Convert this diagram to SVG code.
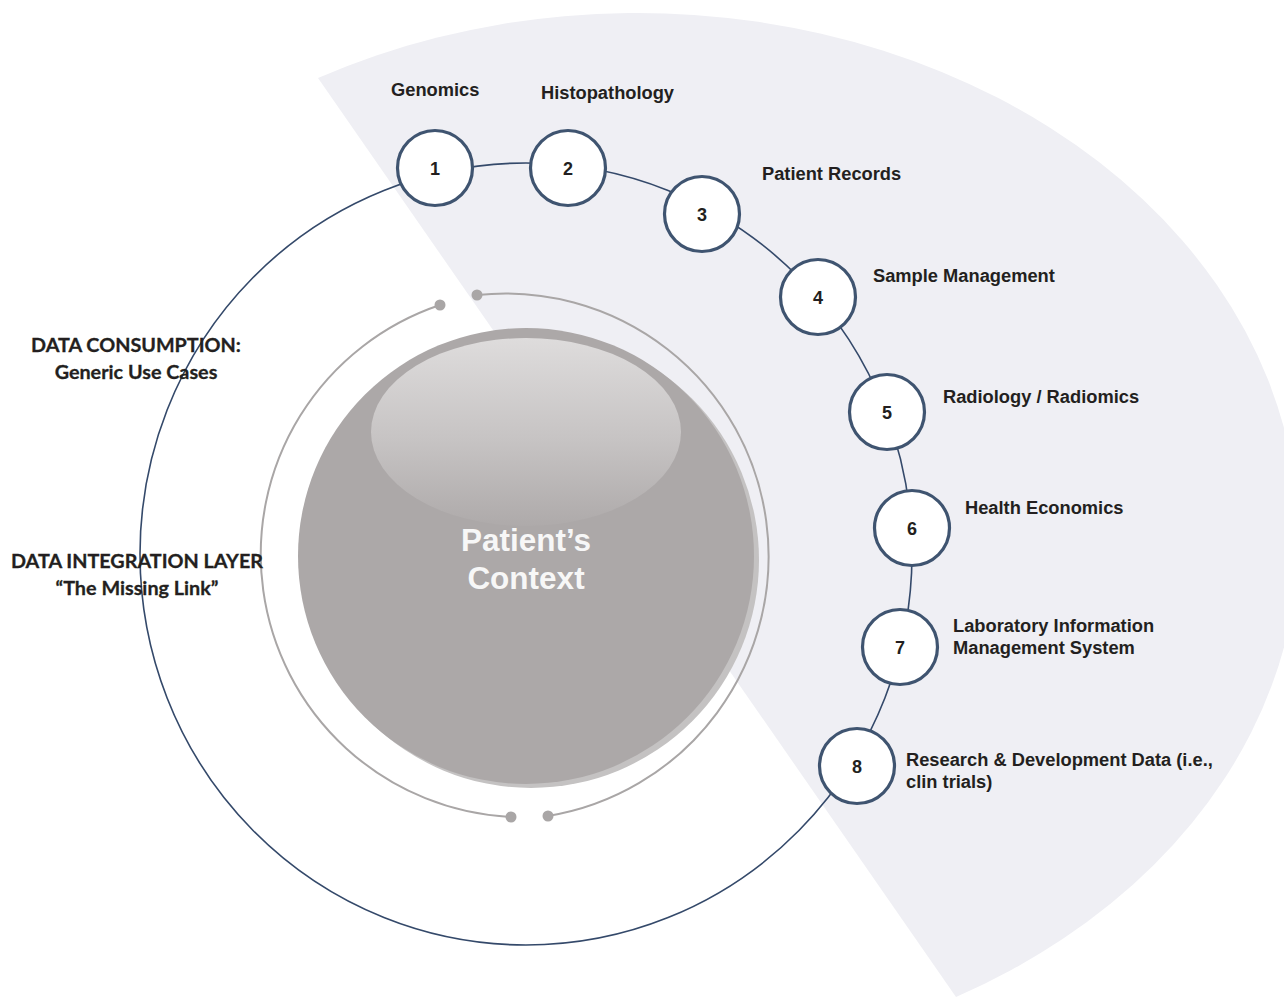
<svg xmlns="http://www.w3.org/2000/svg" width="1284" height="998" viewBox="0 0 1284 998">
  <defs>
    <linearGradient id="gloss" x1="0" y1="0" x2="0" y2="1">
      <stop offset="0" stop-color="#dedcdc"/>
      <stop offset="0.55" stop-color="#c6c3c3"/>
      <stop offset="1" stop-color="#aeaaaa"/>
    </linearGradient>
    <style>
      .node circle { fill: #ffffff; stroke: #3f5470; stroke-width: 3.2; }
      .num { font-family: "Liberation Sans", Arial, sans-serif; font-weight: bold; font-size: 18px; fill: #231f20; text-anchor: middle; }
      .lbl { font-family: "Liberation Sans", Arial, sans-serif; font-weight: bold; font-size: 18.3px; fill: #231f20; }
      .side { font-family: Lato, "Open Sans", sans-serif; font-weight: bold; font-size: 19.8px; fill: #231f20; text-anchor: middle; stroke: #231f20; stroke-width: 0.3; }
      .ring { fill: none; stroke: #a9a6a6; stroke-width: 2; }
      .dot { fill: #a9a6a6; }
    </style>
  </defs>

  <rect width="1284" height="998" fill="#ffffff"/>

  <!-- pale sector behind the data sources -->
  <path id="sector" d="M318,78 A661,524 0 1 1 956,997 Z" fill="#efeff4"/>

  <!-- outer ring linking the data sources -->
  <g id="connectors">
    <ellipse cx="526" cy="554" rx="386" ry="391" fill="none" stroke="#34496a" stroke-width="1.6"/>
  </g>

  <!-- integration layer ring with gaps -->
  <g id="integration-ring">
    <path class="ring" d="M440,305 A263,263 0 0 0 511,817"/>
    <path class="ring" d="M477,295 A263,263 0 0 1 548,816"/>
    <circle class="dot" cx="440" cy="305" r="5.5"/>
    <circle class="dot" cx="477" cy="295" r="5.5"/>
    <circle class="dot" cx="511" cy="817" r="5.5"/>
    <circle class="dot" cx="548" cy="816" r="5.5"/>
  </g>

  <!-- central disc -->
  <g id="patient-context">
    <circle cx="531" cy="560" r="228" fill="#c4c2c2"/>
    <circle cx="526" cy="556" r="228" fill="#aca8a8"/>
    <ellipse cx="526" cy="432" rx="155" ry="94" fill="url(#gloss)"/>
    <text x="526" y="551" font-family="Liberation Sans, Arial, sans-serif" font-weight="bold" font-size="31.5" fill="#f7f7f7" text-anchor="middle">Patient’s</text>
    <text x="526" y="589" font-family="Liberation Sans, Arial, sans-serif" font-weight="bold" font-size="31.5" fill="#f7f7f7" text-anchor="middle">Context</text>
  </g>

  <!-- data source nodes -->
  <g id="node-1" class="node"><circle cx="435" cy="168" r="37.5"/><text class="num" x="435" y="175">1</text><text class="lbl" x="391" y="96">Genomics</text></g>
  <g id="node-2" class="node"><circle cx="568" cy="168" r="37.5"/><text class="num" x="568" y="175">2</text><text class="lbl" x="541" y="99">Histopathology</text></g>
  <g id="node-3" class="node"><circle cx="702" cy="214" r="37.5"/><text class="num" x="702" y="221">3</text><text class="lbl" x="762" y="180">Patient Records</text></g>
  <g id="node-4" class="node"><circle cx="818" cy="297" r="37.5"/><text class="num" x="818" y="304">4</text><text class="lbl" x="873" y="282">Sample Management</text></g>
  <g id="node-5" class="node"><circle cx="887" cy="412" r="37.5"/><text class="num" x="887" y="419">5</text><text class="lbl" x="943" y="403">Radiology / Radiomics</text></g>
  <g id="node-6" class="node"><circle cx="912" cy="528" r="37.5"/><text class="num" x="912" y="535">6</text><text class="lbl" x="965" y="514">Health Economics</text></g>
  <g id="node-7" class="node"><circle cx="900" cy="647" r="37.5"/><text class="num" x="900" y="654">7</text><text class="lbl" x="953" y="632">Laboratory Information</text><text class="lbl" x="953" y="654">Management System</text></g>
  <g id="node-8" class="node"><circle cx="857" cy="766" r="37.5"/><text class="num" x="857" y="773">8</text><text class="lbl" x="906" y="766">Research &amp; Development Data (i.e.,</text><text class="lbl" x="906" y="788">clin trials)</text></g>

  <!-- layer captions -->
  <g id="caption-consumption">
    <text class="side" x="136" y="352">DATA CONSUMPTION:</text>
    <text class="side" x="136" y="379">Generic Use Cases</text>
  </g>
  <g id="caption-integration">
    <text class="side" x="137" y="568">DATA INTEGRATION LAYER</text>
    <text class="side" x="137" y="595">“The Missing Link”</text>
  </g>
</svg>
